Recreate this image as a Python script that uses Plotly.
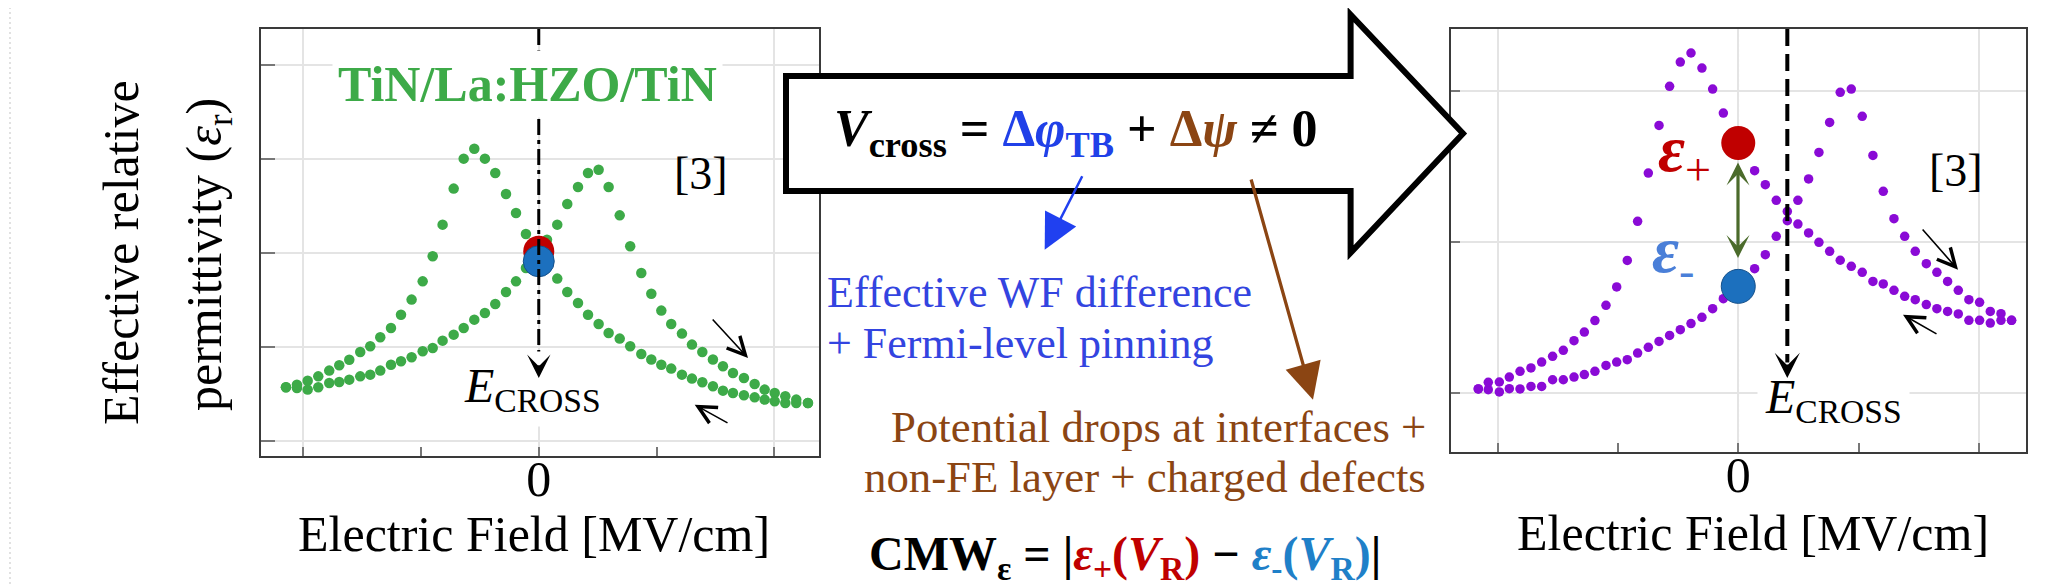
import plotly.graph_objects as go

W, H = 2068, 586
SERIF = "Liberation Serif, Times New Roman, serif"

# ---------------- data ----------------
# Left panel: TiN/La:HZO/TiN, forward sweep (right peak) and reverse sweep (left peak)
left_fwd_x = [-2.145, -2.052, -1.961, -1.871, -1.778, -1.693, -1.608, -1.515, -1.430, -1.345,
              -1.254, -1.169, -1.079, -0.985, -0.900, -0.816, -0.722, -0.637, -0.547, -0.457,
              -0.369, -0.278, -0.193, -0.109,
              0.070, 0.157, 0.242, 0.333, 0.418, 0.508, 0.593, 0.687, 0.776, 0.870,
              0.955, 1.040, 1.124, 1.215, 1.300, 1.388, 1.478, 1.563, 1.648, 1.741,
              1.832, 1.917, 2.002, 2.092, 2.185, 2.284]
left_fwd_y = [15.75, 15.67, 15.50, 15.75, 16.21, 16.31, 16.56, 16.91, 17.09, 17.52,
              18.15, 18.51, 18.93, 19.57, 19.92, 20.70, 21.34, 22.05, 22.93, 23.64,
              24.60, 25.87, 27.00, 28.42,
              31.43, 33.02, 35.22, 37.02, 38.51, 38.86, 37.02, 34.01, 30.72, 27.89,
              25.69, 23.89, 22.47, 21.45, 20.28, 19.50, 18.69, 17.98, 17.27, 16.74,
              16.10, 15.50, 15.14, 14.79, 14.44, 14.08]
left_rev_x = [-2.145, -2.052, -1.961, -1.871, -1.778, -1.693, -1.608, -1.515, -1.430, -1.345,
              -1.254, -1.169, -1.079, -0.985, -0.900, -0.816, -0.722, -0.637, -0.547, -0.457,
              -0.369, -0.278, -0.193, -0.109,
              0.157, 0.242, 0.333, 0.418, 0.508, 0.593, 0.687, 0.776, 0.870,
              0.955, 1.040, 1.124, 1.215, 1.300, 1.388, 1.478, 1.563, 1.648, 1.741,
              1.832, 1.917, 2.002, 2.092, 2.185, 2.284]
left_rev_y = [15.75, 16.03, 16.45, 16.91, 17.52, 18.08, 18.68, 19.50, 20.10, 21.06,
              22.05, 23.46, 25.06, 27.00, 29.66, 33.02, 36.85, 40.03, 41.09, 40.03,
              38.51, 36.28, 34.26, 32.03,
              27.29, 25.87, 24.70, 23.46, 22.47, 21.52, 20.92, 20.10, 19.29,
              18.69, 18.15, 17.73, 17.09, 16.67, 16.28, 15.85, 15.39, 15.14, 14.90,
              14.68, 14.44, 14.26, 14.08, 14.08, 14.08]
left_eps_plus = (0.0, 30.19)
left_eps_minus = (0.0, 29.13)
left_ecross = 0.0

# Right panel: forward sweep (right peak) and reverse sweep (left peak)
right_fwd_x = [-2.162, -2.079, -1.987, -1.904, -1.815, -1.724, -1.635, -1.544, -1.455, -1.366,
               -1.280, -1.192, -1.100, -1.011, -0.923, -0.837, -0.748, -0.659, -0.571, -0.482,
               -0.393, -0.302, -0.213, -0.124,
               0.136, 0.225, 0.316, 0.408, 0.496, 0.585, 0.671, 0.760, 0.848, 0.940,
               1.031, 1.120, 1.206, 1.295, 1.384, 1.472, 1.564, 1.652, 1.741, 1.830,
               1.918, 2.007, 2.096, 2.185, 2.273]
right_fwd_y = [10.27, 10.22, 10.07, 10.29, 10.27, 10.44, 10.44, 10.88, 10.88, 11.06,
               11.22, 11.44, 11.83, 12.05, 12.21, 12.65, 13.03, 13.42, 13.82, 14.20,
               14.60, 15.02, 15.59, 16.25,
               18.24, 19.17, 20.39, 21.42, 22.77, 24.19, 25.95, 27.94, 29.93, 30.15,
               28.34, 25.75, 23.37, 21.56, 20.39, 19.39, 18.57, 18.00, 17.40, 16.81,
               16.19, 16.01, 15.41, 15.26, 14.82]
right_rev_x = right_fwd_x
right_rev_y = [10.27, 10.71, 10.73, 11.06, 11.44, 11.66, 12.05, 12.43, 12.83, 13.47,
               14.04, 14.80, 15.81, 17.03, 18.79, 21.38, 24.58, 27.74, 30.33, 31.94,
               32.54, 31.54, 30.15, 28.56,
               24.74, 23.81, 22.77, 22.04, 21.20, 20.61, 19.99, 19.39, 18.80, 18.40,
               18.00, 17.40, 17.23, 16.81, 16.41, 16.19, 15.86, 15.59, 15.41, 15.24,
               14.82, 14.82, 14.64, 14.82, 14.82]
right_eps_plus = (0.0, 26.57)
right_eps_minus = (0.0, 17.07)
right_ecross = 0.408

x_major_ticks = [-2, 0, 2]
x_major_text = ["", "0", ""]
x_minor_ticks = [-1, 1]
left_y_ticks = [10, 20, 30, 40, 50]
right_y_ticks = [10, 20, 30]

GREEN = "#3DAA48"
PURPLE = "#8A0AD6"
RED = "#C00000"
BLUE_PT = "#1C70BE"
BLUE_TXT = "#3344E0"
BROWN = "#8B4513"


def P(x, y):
    return x / W, 1 - y / H


fig = go.Figure()

fig.add_trace(go.Scatter(x=left_fwd_x, y=left_fwd_y, mode="markers", xaxis="x", yaxis="y",
                         marker=dict(color=GREEN, size=10.5, line=dict(width=0))))
fig.add_trace(go.Scatter(x=left_rev_x, y=left_rev_y, mode="markers", xaxis="x", yaxis="y",
                         marker=dict(color=GREEN, size=10.5, line=dict(width=0))))
fig.add_trace(go.Scatter(x=[left_eps_plus[0]], y=[left_eps_plus[1]], mode="markers", xaxis="x", yaxis="y",
                         marker=dict(color=RED, size=31, line=dict(width=0))))
fig.add_trace(go.Scatter(x=[left_eps_minus[0]], y=[left_eps_minus[1]], mode="markers", xaxis="x", yaxis="y",
                         marker=dict(color=BLUE_PT, size=31, line=dict(width=1, color="#15508A"))))

fig.add_trace(go.Scatter(x=right_fwd_x, y=right_fwd_y, mode="markers", xaxis="x2", yaxis="y2",
                         marker=dict(color=PURPLE, size=9.5, line=dict(width=0))))
fig.add_trace(go.Scatter(x=right_rev_x, y=right_rev_y, mode="markers", xaxis="x2", yaxis="y2",
                         marker=dict(color=PURPLE, size=9.5, line=dict(width=0))))
fig.add_trace(go.Scatter(x=[right_eps_plus[0]], y=[right_eps_plus[1]], mode="markers", xaxis="x2", yaxis="y2",
                         marker=dict(color=RED, size=34, line=dict(width=0))))
fig.add_trace(go.Scatter(x=[right_eps_minus[0]], y=[right_eps_minus[1]], mode="markers", xaxis="x2", yaxis="y2",
                         marker=dict(color=BLUE_PT, size=34, line=dict(width=1, color="#15508A"))))

axis_common = dict(showgrid=True, gridcolor="#E4E4E4", gridwidth=2, zeroline=False,
                   showline=True, mirror=True, linecolor="#3A3A3A", linewidth=2,
                   ticks="inside", tickwidth=1.5, tickcolor="#777777", fixedrange=True)

xa = dict(axis_common, tickvals=x_major_ticks, ticktext=x_major_text, ticklen=9,
          tickfont=dict(family=SERIF, size=50, color="black"), ticklabelstandoff=-22,
          minor=dict(tickvals=x_minor_ticks, ticks="inside", ticklen=9, tickwidth=1.5,
                     tickcolor="#777777", showgrid=False))

fig.update_layout(
    width=W, height=H, margin=dict(l=0, r=0, t=0, b=0),
    paper_bgcolor="white", plot_bgcolor="white", showlegend=False,
    xaxis=dict(xa, domain=[253 / W, 811 / W], range=[-2.357, 2.378], anchor="y"),
    yaxis=dict(axis_common, domain=[(H - 448) / H, (H - 21) / H], range=[8.45, 53.80],
               tickvals=left_y_ticks, showticklabels=False, ticklen=14, anchor="x"),
    xaxis2=dict(xa, domain=[1443 / W, 2018 / W], range=[-2.389, 2.393], anchor="y2"),
    yaxis2=dict(axis_common, domain=[(H - 444) / H, (H - 21) / H], range=[6.09, 34.13],
                tickvals=right_y_ticks, showticklabels=False, ticklen=9, anchor="x2"),
)

ann = []


def txt(text, x, y, size, color="black", xanchor="center", yanchor="middle", angle=0, bg=None, pad=0,
        family=SERIF):
    px, py = P(x, y)
    d = dict(text=text, x=px, y=py, xref="paper", yref="paper", showarrow=False,
             xanchor=xanchor, yanchor=yanchor, textangle=angle, borderpad=pad,
             font=dict(family=family, size=size, color=color))
    if bg:
        d["bgcolor"] = bg
    ann.append(d)


def arrow(tip, tail, color, width, head, size, both=False):
    px, py = P(*tip)
    d = dict(text="", x=px, y=py, xref="paper", yref="paper", showarrow=True,
             ax=tail[0] - tip[0], ay=tail[1] - tip[1], axref="pixel", ayref="pixel",
             arrowcolor=color, arrowwidth=width, arrowhead=head, arrowsize=size, standoff=0)
    if both:
        d.update(arrowside="end+start", startarrowhead=head, startarrowsize=size, startstandoff=0)
    ann.append(d)


# axis titles
txt("Effective relative", 113, 245, 50, angle=-90)
txt("permittivity (<i>ε</i><sub>r</sub>)", 200, 247, 50, angle=-90)
txt("Electric Field [MV/cm]", 525.5, 526, 50)
txt("Electric Field [MV/cm]", 1745, 525, 50)

# panel labels
txt("<b>TiN/La:HZO/TiN</b>", 519, 76, 50, color=GREEN, bg="white", pad=5)
txt("[3]", 693, 165, 46)
txt("[3]", 1948, 162, 46)
txt("<i>E</i><sub>CROSS</sub>", 524, 381, 48, bg="white", pad=7)
txt("<i>E</i><sub>CROSS</sub>", 1825, 392, 48, bg="white", pad=7)
txt("<b><i>ε</i></b><sub>+</sub>", 1676, 146, 66, color=RED)
txt("<b><i>ε</i></b><sub>-</sub>", 1665, 247, 66, color="#4A7FD8")

# middle formulas and notes
txt("<b><i>V</i><sub>cross</sub> = <span style='color:#2040E8'>Δ<i>φ</i><sub>TB</sub></span> + "
    "<span style='color:#8B4513'>Δ<i>ψ</i></span> ≠ 0</b>", 1068, 124, 52)
txt("Effective WF difference", 818, 284, 44, color=BLUE_TXT, xanchor="left")
txt("+ Fermi-level pinning", 818, 335, 44, color=BLUE_TXT, xanchor="left")
txt("Potential drops at interfaces +", 1418.5, 419, 44.8, color=BROWN, xanchor="right")
txt("non-FE layer + charged defects", 1418.5, 469, 44.8, color=BROWN, xanchor="right")
txt("<b>CMW<sub>ε</sub> = |<span style='color:#C00000'><i>ε</i><sub>+</sub>(<i>V</i><sub>R</sub>)</span> − "
    "<span style='color:#1F80C8'><i>ε</i><sub>-</sub>(<i>V</i><sub>R</sub>)</span>|</b>", 860, 549, 48,
    xanchor="left")

# arrows
arrow((1036.7, 241.7), (1075, 166.7), "#2040F0", 2.5, 2, 2.8)
arrow((1305, 391.7), (1242.7, 170), BROWN, 3.3, 2, 2.2)
arrow((1730, 250), (1730, 153), "#4B6B2B", 3.2, 3, 1.2, both=True)
arrow((530.8, 370), (530.8, 356), "black", 3, 3, 1.3)
arrow((1779.3, 370), (1779.3, 356), "black", 3.5, 3, 1.2)
arrow((740, 350), (703.3, 310), "black", 1.6, 5, 2.2)
arrow((686.7, 396.7), (721, 415.7), "black", 1.6, 5, 2.2)
arrow((1950, 261.7), (1913.3, 220), "black", 1.6, 5, 2.2)
arrow((1895, 306.7), (1930, 326.7), "black", 1.6, 5, 2.2)

fig.update_layout(annotations=ann)

# big outlined arrow
pts = [(778, 68), (1342.6, 68), (1342.6, 6.7), (1455, 125.5), (1342.6, 244.8), (1342.6, 183), (778, 183)]
path = "M " + " L ".join(f"{P(x, y)[0]:.5f},{P(x, y)[1]:.5f}" for x, y in pts) + " Z"

shapes = [
    dict(type="line", xref="x2", yref="paper", x0=0, x1=0, y0=P(0, 444)[1], y1=P(0, 21)[1],
         line=dict(color="black", width=1.5, dash="3px,2px"), layer="below"),
    dict(type="path", path=path, xref="paper", yref="paper", fillcolor="white",
         line=dict(color="black", width=6), layer="above"),
    dict(type="line", xref="x", yref="paper", x0=left_ecross, x1=left_ecross,
         y0=P(0, 21)[1], y1=P(0, 360)[1], line=dict(color="black", width=3, dash="16px,5px,4px,5px"),
         layer="above"),
    dict(type="line", xref="x2", yref="paper", x0=right_ecross, x1=right_ecross,
         y0=P(0, 21)[1], y1=P(0, 360)[1], line=dict(color="black", width=4, dash="17px,8px"),
         layer="above"),
    dict(type="line", xref="paper", yref="paper", x0=2 / W, x1=2 / W, y0=0, y1=1,
         line=dict(color="#D8D8D8", width=1.5, dash="2px,3px"), layer="above"),
]
fig.update_layout(shapes=shapes)

fig.write_html("out.html")
